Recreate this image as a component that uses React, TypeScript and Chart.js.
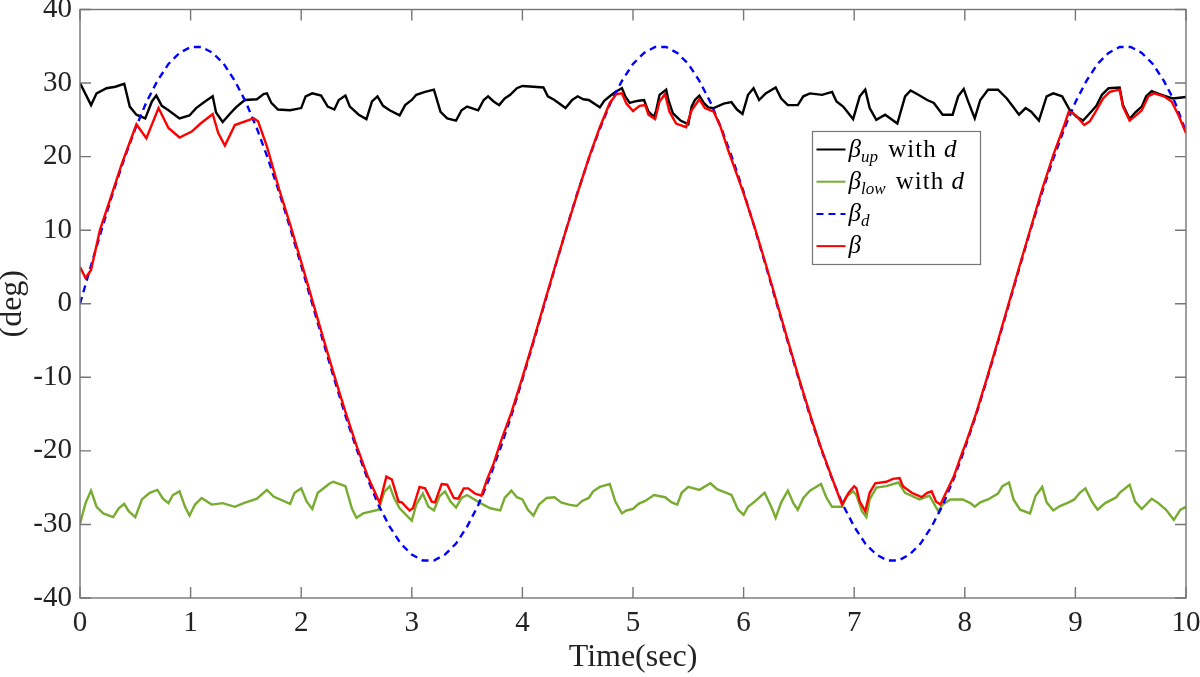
import { useEffect, useRef } from "react";
import Chart from "chart.js/auto";

// beta_up with d (black)
const upT = [0, 0.1, 0.15, 0.24, 0.32, 0.4, 0.45, 0.51, 0.59, 0.65, 0.69, 0.74, 0.8, 0.9, 0.99, 1.05, 1.13, 1.2, 1.23, 1.29, 1.36, 1.41, 1.49, 1.6, 1.66, 1.69, 1.73, 1.79, 1.9, 2.0, 2.04, 2.1, 2.18, 2.24, 2.3, 2.34, 2.4, 2.44, 2.52, 2.59, 2.64, 2.69, 2.74, 2.8, 2.89, 2.94, 3.0, 3.04, 3.12, 3.2, 3.26, 3.32, 3.4, 3.45, 3.5, 3.6, 3.65, 3.69, 3.74, 3.79, 3.84, 3.89, 3.95, 4.0, 4.1, 4.19, 4.23, 4.29, 4.39, 4.45, 4.5, 4.55, 4.6, 4.7, 4.74, 4.79, 4.84, 4.9, 4.93, 4.97, 5.02, 5.05, 5.1, 5.14, 5.19, 5.21, 5.24, 5.3, 5.32, 5.36, 5.43, 5.5, 5.53, 5.56, 5.6, 5.64, 5.68, 5.73, 5.82, 5.89, 5.94, 5.99, 6.04, 6.09, 6.14, 6.2, 6.29, 6.34, 6.4, 6.49, 6.54, 6.6, 6.71, 6.8, 6.84, 6.9, 6.99, 7.05, 7.1, 7.14, 7.2, 7.28, 7.39, 7.46, 7.51, 7.58, 7.66, 7.72, 7.8, 7.89, 7.94, 7.99, 8.03, 8.09, 8.14, 8.21, 8.3, 8.38, 8.44, 8.49, 8.55, 8.6, 8.67, 8.74, 8.8, 8.88, 8.95, 9.01, 9.07, 9.13, 9.19, 9.24, 9.3, 9.4, 9.43, 9.49, 9.54, 9.6, 9.64, 9.69, 9.76, 9.82, 9.88, 10.0];
const upDeg = [30.0, 27.0, 28.6, 29.3, 29.5, 29.9, 26.8, 25.7, 25.2, 27.5, 28.3, 26.9, 26.3, 25.2, 25.6, 26.6, 27.5, 28.2, 26.0, 24.7, 25.9, 26.7, 27.7, 27.8, 28.5, 28.6, 27.3, 26.4, 26.3, 26.6, 28.2, 28.6, 28.3, 26.8, 26.4, 27.7, 28.3, 26.8, 25.7, 25.1, 27.5, 28.2, 26.9, 26.3, 25.6, 27.0, 27.7, 28.4, 28.8, 29.1, 26.1, 25.2, 24.9, 26.3, 26.8, 26.3, 27.7, 28.2, 27.5, 27.0, 27.9, 28.4, 29.3, 29.6, 29.5, 29.4, 28.2, 27.7, 26.6, 27.7, 28.2, 27.8, 27.7, 26.7, 27.6, 28.2, 28.8, 29.3, 28.2, 27.3, 27.5, 27.6, 27.7, 26.1, 25.4, 26.3, 28.4, 29.1, 27.7, 25.9, 24.9, 24.4, 26.8, 27.7, 28.3, 27.3, 26.7, 26.6, 27.2, 27.4, 26.4, 25.8, 28.4, 29.3, 27.7, 28.6, 29.4, 27.9, 27.0, 27.0, 28.2, 28.6, 28.4, 28.8, 27.5, 26.8, 25.1, 28.2, 29.1, 26.6, 25.0, 25.7, 24.5, 28.2, 29.0, 28.4, 27.7, 27.3, 25.7, 25.7, 28.2, 29.2, 27.5, 25.2, 27.7, 29.1, 29.1, 27.9, 26.7, 25.7, 26.6, 26.1, 24.9, 28.2, 28.6, 28.2, 26.3, 25.4, 24.9, 25.9, 26.9, 28.4, 29.3, 29.4, 27.0, 25.1, 26.0, 26.8, 28.2, 28.9, 28.5, 28.2, 27.9, 28.1];

// beta_low with d (green)
const lowT = [0, 0.05, 0.1, 0.15, 0.21, 0.3, 0.35, 0.4, 0.44, 0.5, 0.56, 0.63, 0.7, 0.75, 0.8, 0.84, 0.9, 0.95, 0.99, 1.04, 1.1, 1.19, 1.29, 1.4, 1.48, 1.6, 1.69, 1.75, 1.9, 1.94, 2.0, 2.05, 2.1, 2.15, 2.26, 2.29, 2.4, 2.46, 2.5, 2.56, 2.7, 2.75, 2.8, 2.84, 2.89, 3.0, 3.04, 3.1, 3.15, 3.2, 3.25, 3.3, 3.35, 3.4, 3.45, 3.5, 3.62, 3.71, 3.8, 3.84, 3.9, 3.95, 4.0, 4.05, 4.1, 4.15, 4.22, 4.29, 4.35, 4.42, 4.49, 4.54, 4.6, 4.64, 4.7, 4.79, 4.84, 4.9, 4.94, 5.0, 5.05, 5.11, 5.19, 5.29, 5.35, 5.4, 5.44, 5.5, 5.6, 5.7, 5.76, 5.89, 5.95, 6.0, 6.04, 6.1, 6.19, 6.25, 6.29, 6.34, 6.4, 6.45, 6.49, 6.54, 6.6, 6.7, 6.75, 6.8, 6.89, 6.93, 6.99, 7.02, 7.07, 7.11, 7.14, 7.2, 7.29, 7.4, 7.46, 7.59, 7.68, 7.76, 7.8, 7.87, 7.98, 8.05, 8.09, 8.14, 8.21, 8.3, 8.34, 8.4, 8.44, 8.5, 8.59, 8.64, 8.7, 8.74, 8.8, 8.86, 8.94, 8.99, 9.04, 9.09, 9.15, 9.2, 9.27, 9.37, 9.4, 9.49, 9.54, 9.6, 9.69, 9.75, 9.82, 9.89, 9.95, 10.0];
const lowDeg = [-29.9, -27.1, -25.4, -27.6, -28.5, -29.0, -27.8, -27.2, -28.2, -29.0, -26.6, -25.7, -25.3, -26.5, -27.1, -26.0, -25.5, -27.6, -28.8, -27.3, -26.4, -27.3, -27.1, -27.6, -27.1, -26.5, -25.3, -26.2, -27.2, -25.7, -25.1, -26.9, -27.9, -25.7, -24.4, -24.2, -24.8, -27.9, -29.1, -28.5, -28.0, -25.6, -24.8, -26.4, -27.8, -29.5, -27.3, -25.8, -27.6, -28.1, -26.2, -25.5, -26.9, -27.7, -26.4, -26.0, -27.1, -27.8, -28.1, -26.4, -25.4, -26.3, -26.6, -28.0, -28.8, -27.3, -26.4, -26.3, -27.0, -27.3, -27.5, -26.8, -26.4, -25.5, -24.9, -24.5, -26.9, -28.5, -28.1, -27.9, -27.2, -26.8, -26.0, -26.3, -27.0, -27.3, -25.7, -24.9, -25.3, -24.4, -25.2, -26.0, -28.0, -28.7, -27.6, -26.9, -25.7, -27.6, -29.1, -27.0, -25.4, -27.1, -28.0, -26.4, -25.4, -24.5, -26.4, -27.6, -27.6, -26.2, -25.5, -26.0, -28.2, -29.0, -26.6, -25.0, -24.8, -24.3, -25.7, -26.6, -26.1, -28.2, -27.3, -26.6, -26.6, -27.1, -27.6, -27.0, -26.6, -25.8, -24.8, -24.3, -26.6, -28.0, -28.5, -26.1, -24.9, -27.0, -28.1, -27.5, -27.0, -26.6, -25.7, -25.1, -26.9, -28.0, -27.1, -26.3, -25.7, -24.6, -26.9, -27.9, -26.5, -27.1, -28.0, -29.4, -28.0, -27.6];

// beta_d (blue dashed)
const refT = [0, 0.1, 0.2, 0.3, 0.4, 0.5, 0.6, 0.7, 0.8, 0.9, 1.0, 1.1, 1.2, 1.3, 1.4, 1.5, 1.6, 1.7, 1.8, 1.9, 2.0, 2.1, 2.2, 2.3, 2.4, 2.5, 2.6, 2.7, 2.8, 2.9, 3.0, 3.1, 3.2, 3.3, 3.4, 3.5, 3.6, 3.7, 3.8, 3.9, 4.0, 4.1, 4.2, 4.3, 4.4, 4.5, 4.6, 4.7, 4.8, 4.9, 5.0, 5.1, 5.2, 5.3, 5.4, 5.5, 5.6, 5.7, 5.8, 5.9, 6.0, 6.1, 6.2, 6.3, 6.4, 6.5, 6.6, 6.7, 6.8, 6.9, 7.0, 7.1, 7.2, 7.3, 7.4, 7.5, 7.6, 7.7, 7.8, 7.9, 8.0, 8.1, 8.2, 8.3, 8.4, 8.5, 8.6, 8.7, 8.8, 8.9, 9.0, 9.1, 9.2, 9.3, 9.4, 9.5, 9.6, 9.7, 9.8, 9.9, 10.0];
const refDeg = [0, 5.2, 10.3, 15.2, 19.7, 23.8, 27.4, 30.3, 32.6, 34.1, 34.9, 34.9, 34.1, 32.6, 30.3, 27.4, 23.8, 19.7, 15.2, 10.3, 5.2, 0, -5.2, -10.3, -15.2, -19.7, -23.8, -27.4, -30.3, -32.6, -34.1, -34.9, -34.9, -34.1, -32.6, -30.3, -27.4, -23.8, -19.7, -15.2, -10.3, -5.2, 0, 5.2, 10.3, 15.2, 19.7, 23.8, 27.4, 30.3, 32.6, 34.1, 34.9, 34.9, 34.1, 32.6, 30.3, 27.4, 23.8, 19.7, 15.2, 10.3, 5.2, 0, -5.2, -10.3, -15.2, -19.7, -23.8, -27.4, -30.3, -32.6, -34.1, -34.9, -34.9, -34.1, -32.6, -30.3, -27.4, -23.8, -19.7, -15.2, -10.3, -5.2, 0, 5.2, 10.3, 15.2, 19.7, 23.8, 27.4, 30.3, 32.6, 34.1, 34.9, 34.9, 34.1, 32.6, 30.3, 27.4, 23.4];

// beta (red)
const betaT = [0, 0.05, 0.1, 0.18, 0.27, 0.38, 0.51, 0.6, 0.71, 0.8, 0.9, 1.01, 1.09, 1.2, 1.25, 1.31, 1.4, 1.57, 1.61, 1.69, 1.8, 1.9, 2.0, 2.1, 2.2, 2.3, 2.4, 2.5, 2.6, 2.71, 2.77, 2.82, 2.88, 2.91, 2.98, 3.01, 3.07, 3.12, 3.18, 3.21, 3.27, 3.32, 3.38, 3.42, 3.47, 3.51, 3.57, 3.63, 3.68, 3.74, 3.81, 3.9, 4.0, 4.1, 4.2, 4.3, 4.4, 4.5, 4.6, 4.7, 4.79, 4.85, 4.9, 4.94, 5.0, 5.06, 5.11, 5.14, 5.2, 5.24, 5.29, 5.33, 5.39, 5.48, 5.53, 5.6, 5.65, 5.73, 5.79, 5.86, 5.95, 6.0, 6.1, 6.2, 6.3, 6.4, 6.5, 6.6, 6.7, 6.8, 6.89, 6.95, 7.0, 7.02, 7.05, 7.1, 7.14, 7.19, 7.29, 7.35, 7.41, 7.44, 7.52, 7.61, 7.66, 7.7, 7.74, 7.78, 7.82, 7.9, 7.97, 8.02, 8.1, 8.2, 8.3, 8.4, 8.5, 8.6, 8.7, 8.8, 8.9, 8.94, 8.98, 9.01, 9.08, 9.13, 9.19, 9.25, 9.31, 9.4, 9.43, 9.49, 9.54, 9.6, 9.66, 9.71, 9.8, 9.87, 9.93, 10.0];
const betaDeg = [5.0, 3.5, 4.6, 10.0, 14.1, 19.1, 24.4, 22.5, 26.6, 23.9, 22.6, 23.4, 24.5, 25.8, 23.2, 21.5, 24.3, 25.2, 24.8, 21.4, 15.6, 10.8, 5.7, 0.5, -4.7, -9.8, -14.7, -19.3, -23.4, -27.1, -23.5, -23.9, -26.9, -27.0, -28.1, -27.8, -24.9, -25.1, -26.9, -27.0, -24.5, -24.6, -26.4, -26.5, -25.1, -25.1, -25.8, -26.1, -23.9, -21.7, -18.5, -14.8, -10.0, -5.0, 0.2, 5.3, 10.3, 15.1, 19.8, 24.0, 27.3, 28.5, 28.6, 27.2, 26.2, 26.9, 27.0, 25.7, 25.1, 27.5, 28.5, 26.1, 24.5, 24.0, 26.3, 27.8, 26.6, 26.1, 24.1, 20.9, 17.1, 15.0, 10.4, 5.4, 0.2, -5.0, -10.1, -15.0, -19.6, -23.7, -27.3, -25.7, -24.8, -25.1, -26.9, -28.2, -25.7, -24.4, -24.2, -23.8, -23.7, -24.8, -25.7, -26.3, -25.7, -25.5, -26.9, -27.3, -26.0, -23.5, -20.5, -18.5, -15.0, -10.1, -5.0, 0.2, 5.4, 10.5, 15.6, 20.2, 24.3, 26.1, 25.9, 25.5, 24.3, 24.8, 26.3, 27.9, 28.8, 29.1, 26.8, 24.9, 25.5, 26.3, 28.2, 28.6, 28.2, 27.5, 25.7, 23.2];

const xTickValues = [0, 1, 2, 3, 4, 5, 6, 7, 8, 9, 10];
const yTickValues = [-40, -30, -20, -10, 0, 10, 20, 30, 40];

// legend rows: [text, italic, subscript]
const legendRows: [string, boolean, boolean][][] = [
  [["β", true, false], ["up", true, true], [" with ", false, false], ["d", true, false]],
  [["β", true, false], ["low", true, true], [" with ", false, false], ["d", true, false]],
  [["β", true, false], ["d", true, true]],
  [["β", true, false]],
];

const pts = (t: number[], v: number[]) => t.map((x, i) => ({ x, y: v[i] }));

const AXIS = "#767676";
const TEXT = "#222222";
const SERIF = '"Liberation Serif", "Times New Roman", serif';

const framePlugin = {
  id: "frame",
  afterDatasetsDraw(chart: any) {
    const { ctx, chartArea: a, scales } = chart;
    ctx.save();
    ctx.strokeStyle = AXIS;
    ctx.lineWidth = 1.4;
    ctx.strokeRect(a.left, a.top, a.right - a.left, a.bottom - a.top);
    ctx.beginPath();
    for (const v of xTickValues) {
      const px = scales.x.getPixelForValue(v);
      ctx.moveTo(px, a.bottom);
      ctx.lineTo(px, a.bottom - 11);
      ctx.moveTo(px, a.top);
      ctx.lineTo(px, a.top + 11);
    }
    for (const v of yTickValues) {
      const py = scales.y.getPixelForValue(v);
      ctx.moveTo(a.left, py);
      ctx.lineTo(a.left + 11, py);
      ctx.moveTo(a.right, py);
      ctx.lineTo(a.right - 11, py);
    }
    ctx.stroke();
    ctx.restore();
  },
};

const legendPlugin = {
  id: "mathLegend",
  afterDraw(chart: any) {
    const { ctx, chartArea: a } = chart;
    const w = a.right - a.left;
    const h = a.bottom - a.top;
    const left = Math.round(a.left + w * 0.662) + 0.5;
    const top = Math.round(a.top + h * 0.206) + 0.5;
    const bw = 168;
    const bh = 133;
    ctx.save();
    ctx.fillStyle = "#ffffff";
    ctx.fillRect(left, top, bw, bh);
    ctx.strokeStyle = AXIS;
    ctx.lineWidth = 1.2;
    ctx.strokeRect(left, top, bw, bh);
    legendRows.forEach((row, i) => {
      const ds = chart.data.datasets[i];
      const y = top + 18 + i * 32.2;
      ctx.strokeStyle = ds.borderColor;
      ctx.lineWidth = 2;
      ctx.setLineDash(ds.borderDash || []);
      ctx.beginPath();
      ctx.moveTo(left + 4, y);
      ctx.lineTo(left + 33, y);
      ctx.stroke();
      ctx.setLineDash([]);
      ctx.fillStyle = "#000000";
      ctx.textBaseline = "alphabetic";
      let x = left + 36;
      for (const [t, it, sub] of row) {
        ctx.font = `${it ? "italic " : ""}${sub ? 17 : 25}px ${SERIF}`;
        (ctx as any).letterSpacing = it ? "0px" : "1px";
        ctx.fillText(t, x, y + 7 + (sub ? 5 : 0));
        x += ctx.measureText(t).width + (sub ? 3 : 0);
      }
      (ctx as any).letterSpacing = "0px";
    });
    ctx.restore();
  },
};

export default function App() {
  const ref = useRef<HTMLCanvasElement | null>(null);

  useEffect(() => {
    document.body.style.margin = "0";
    if (!ref.current) return;
    const ctx = ref.current.getContext("2d");
    if (!ctx) return;

    const chart = new Chart(ctx, {
      type: "line",
      data: {
        datasets: [
          { label: "βup with d", data: pts(upT, upDeg), borderColor: "#000000", borderWidth: 2.4, pointRadius: 0, tension: 0, order: 4 },
          { label: "βlow with d", data: pts(lowT, lowDeg), borderColor: "#77AC30", borderWidth: 2.4, pointRadius: 0, tension: 0, order: 3 },
          { label: "βd", data: pts(refT, refDeg), borderColor: "#0000FF", borderWidth: 2.4, borderDash: [7, 5], pointRadius: 0, tension: 0, order: 2 },
          { label: "β", data: pts(betaT, betaDeg), borderColor: "#FF0000", borderWidth: 2.4, pointRadius: 0, tension: 0, order: 1 },
        ],
      },
      options: {
        responsive: true,
        maintainAspectRatio: false,
        animation: false,
        layout: { padding: { top: 9.5, right: 14, left: 0, bottom: 0 } },
        plugins: { legend: { display: false }, tooltip: { enabled: false } },
        scales: {
          x: {
            type: "linear",
            min: 0,
            max: 10,
            grid: { display: false, drawTicks: false },
            border: { display: false },
            afterBuildTicks: (s: any) => { s.ticks = xTickValues.map((value) => ({ value })); },
            afterFit: (s: any) => { s.height = 79; s.paddingLeft = 0; s.paddingRight = 0; },
            ticks: { padding: 8, color: TEXT, font: { family: SERIF, size: 29 }, callback: (v: any) => String(v) },
            title: { display: true, text: "Time(sec)", color: TEXT, padding: 0, font: { family: SERIF, size: 32 } },
          },
          y: {
            type: "linear",
            min: -40,
            max: 40,
            grid: { display: false, drawTicks: false },
            border: { display: false },
            afterBuildTicks: (s: any) => { s.ticks = yTickValues.map((value) => ({ value })); },
            afterFit: (s: any) => { s.width = 80; s.paddingTop = 0; s.paddingBottom = 0; },
            ticks: { padding: 8, color: TEXT, font: { family: SERIF, size: 29 }, callback: (v: any) => String(v) },
            title: { display: true, text: "(deg)", color: TEXT, padding: 0, font: { family: SERIF, size: 32, lineHeight: 0.76 } },
          },
        },
      },
      plugins: [framePlugin, legendPlugin],
    });

    return () => chart.destroy();
  }, []);

  return (
    <div style={{ width: 1200, height: 677, position: "relative" }}>
      <canvas ref={ref} />
    </div>
  );
}
